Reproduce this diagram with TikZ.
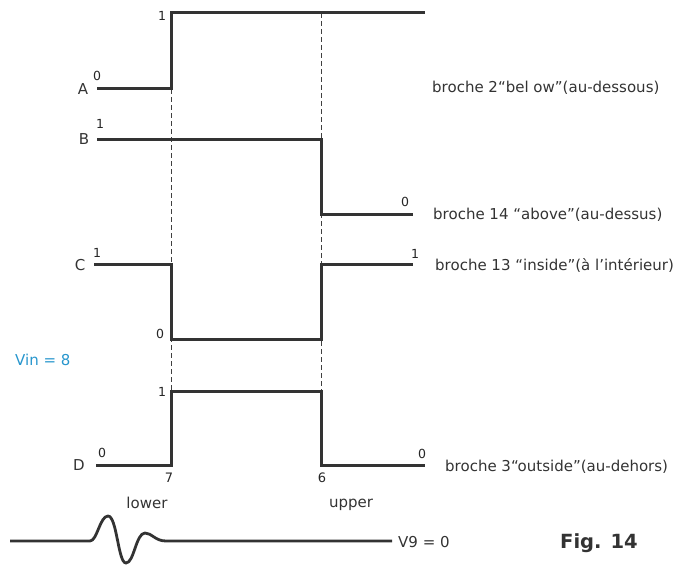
\documentclass[tikz,border=0pt]{standalone}
\usepackage{fontspec}
\setmainfont{DejaVu Sans}
\newfontfamily\figfont{DejaVu Sans}
\begin{document}
\begin{tikzpicture}[x=1pt,y=-1pt,
  sig/.style={line width=3pt,color=black!80,line join=miter,line cap=butt},
  guide/.style={line width=0.9pt,color=black!75,dash pattern=on 5pt off 3pt},
  lab/.style={inner sep=0pt,font=\fontsize{15}{17}\selectfont,text=black!80},
  big/.style={inner sep=0pt,font=\fontsize{15}{17}\selectfont,text=black!80},
  lvl/.style={inner sep=0pt,font=\fontsize{12.5}{14}\selectfont,text=black!85},
  num/.style={inner sep=0pt,font=\fontsize{13}{14}\selectfont,text=black!85}]
\useasboundingbox (0,0) rectangle (684,567);
% guides
\draw[guide] (171,89) -- (171,391);
\draw[guide] (321,13) -- (321,391);
% A
\draw[sig] (97,89) -- (171,89) -- (171,13) -- (425,13);
% B
\draw[sig] (97,139) -- (321,139) -- (321,214) -- (413,214);
% C
\draw[sig] (94,264) -- (171,264) -- (171,339) -- (321,339) -- (321,264) -- (413,264);
% D
\draw[sig] (96,465) -- (171,465) -- (171,391) -- (321,391) -- (321,465) -- (425,465);
% wave
\draw[sig,line width=2.8pt] (10,541) -- (90,541)
  .. controls (97,541) and (100,516) .. (108,516)
  .. controls (117,516) and (118,563) .. (126,563)
  .. controls (134,563) and (136,533) .. (145,533)
  .. controls (152,533) and (155,541) .. (166,541) -- (392,541);
% channel letters
\node[big] (lA) at (83,89) {A};
\node[big] (lB) at (84,139) {B};
\node[big] (lC) at (80,265) {C};
\node[big] (lD) at (79,465) {D};
% level digits
\node[lvl] (a0) at (97,76) {0};
\node[lvl] (a1) at (162,16) {1};
\node[lvl] (b1) at (100,124) {1};
\node[lvl] (b0) at (405,202) {0};
\node[lvl] (c1) at (97,253) {1};
\node[lvl] (c0) at (160,334) {0};
\node[lvl] (c1r) at (415,254) {1};
\node[lvl] (d0) at (102,453) {0};
\node[lvl] (d1) at (162,392) {1};
\node[lvl] (d0r) at (422,454) {0};
\node[num] (n7) at (169,478) {7};
\node[num] (n6) at (322,478) {6};
% captions
\node[lab,anchor=west] (tA) at (432,88) {broche 2“bel ow”(au-dessous)};
\node[lab,anchor=west] (tB) at (433,215) {broche 14 “above”(au-dessus)};
\node[lab,anchor=west] (tC) at (435,265) {broche 13 “inside”(à l’intérieur)};
\node[lab,anchor=west] (tD) at (445,467) {broche 3“outside”(au-dehors)};
\node[lab] (low) at (147,503) {lower};
\node[lab] (up) at (351,505) {upper};
\node[lab,anchor=west] (v9) at (398,542) {V9 = 0};
\node[lab,anchor=west,text={rgb,255:red,40;green,150;blue,205}] (vin) at (15,360) {Vin = 8};
\node[inner sep=0pt,anchor=west,font=\figfont\bfseries\fontsize{19.5}{21}\selectfont,text=black!80] (fig) at (560,543) {Fig. 14};
\end{tikzpicture}
\end{document}
